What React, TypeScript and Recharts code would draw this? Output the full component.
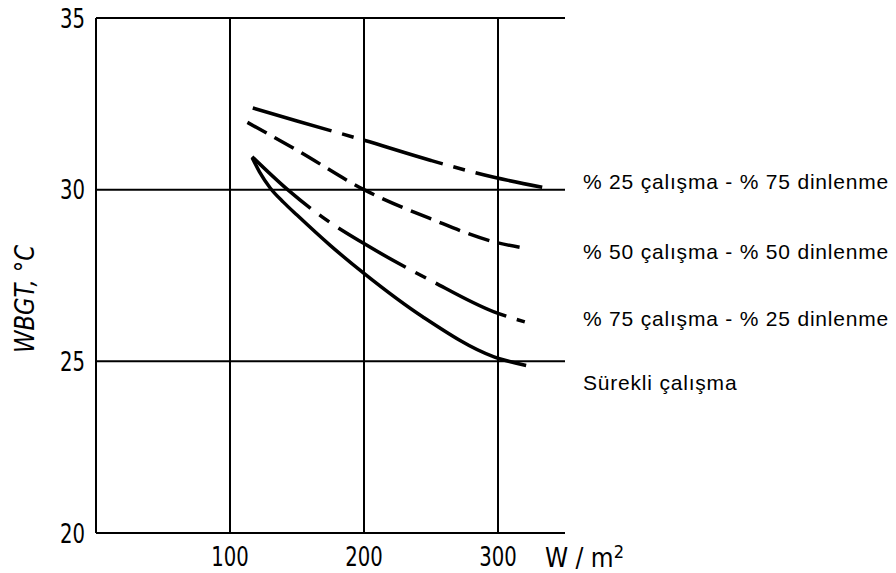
import React from "react";
import {
  LineChart,
  Line,
  XAxis,
  YAxis,
  CartesianGrid,
} from "recharts";

// x: metabolic rate (W/m2), y: WBGT limit (°C)
const work25X = [117, 150, 200, 250, 297, 333];
const work25Y = [32.38, 32.0, 31.44, 30.85, 30.36, 30.07];

const work50X = [113, 150, 200, 250, 297, 321];
const work50Y = [31.96, 31.15, 30.0, 29.15, 28.48, 28.29];

const work75X = [116.5, 143, 169, 200, 250, 297, 320];
const work75Y = [30.96, 30.0, 29.2, 28.43, 27.35, 26.44, 26.15];

const continuousX = [116.5, 122, 130, 140, 150, 175, 200, 244, 297, 321];
const continuousY = [30.93, 30.52, 30.05, 29.63, 29.26, 28.37, 27.56, 26.29, 25.13, 24.88];

const xTicks = [100, 200, 300];
const yTicks = [20, 25, 30, 35];

const labels = [
  "% 25 çalışma - % 75 dinlenme",
  "% 50 çalışma - % 50 dinlenme",
  "% 75 çalışma - % 25 dinlenme",
  "Sürekli çalışma",
];
const labelTops = [170, 240, 307, 371];

const toRows = (xs: number[], ys: number[]) =>
  xs.map((x, i) => ({ x, y: ys[i] }));

const series = [
  { data: toRows(work25X, work25Y), dash: "82 11 12 11" },
  { data: toRows(work50X, work50Y), dash: "22 9" },
  { data: toRows(work75X, work75Y), dash: "78 11 12 11" },
  { data: toRows(continuousX, continuousY), dash: undefined },
];

const FONT = "'DejaVu Sans Condensed', 'DejaVu Sans', sans-serif";

// condensed numbers like the scanned figure
const NarrowTick = (props: any) => {
  const { x, y, payload, textAnchor, verticalAnchor } = props;
  const s = String(payload.value);
  const dy = verticalAnchor === "start" ? "0.71em" : "0.355em";
  return (
    <text
      x={x}
      y={y}
      dy={dy}
      textAnchor={textAnchor}
      fontFamily={FONT}
      fontSize={27}
      fill="#000"
      textLength={s.length * 12.5}
      lengthAdjust="spacingAndGlyphs"
    >
      {s}
    </text>
  );
};

export default function App() {
  return (
    <div
      style={{
        position: "absolute",
        left: 0,
        top: 0,
        width: 896,
        height: 573,
        background: "#fff",
      }}
    >
      <LineChart
        width={896}
        height={573}
        margin={{ top: 18, right: 331, bottom: 0, left: 0 }}
      >
        <CartesianGrid
          stroke="#000"
          strokeWidth={2}
          horizontalValues={yTicks}
          verticalValues={xTicks}
        />
        <XAxis
          type="number"
          dataKey="x"
          domain={[0, 350]}
          ticks={xTicks}
          height={40}
          tickLine={false}
          tickSize={0}
          tickMargin={14}
          axisLine={{ stroke: "#000", strokeWidth: 2 }}
          tick={<NarrowTick />}
          allowDataOverflow
          label={{
            content: (props: any) => {
              const vb = props.viewBox || {};
              return (
                <text
                  x={vb.x + vb.width - 20}
                  y={vb.y + 34}
                  fontFamily={FONT}
                  fontSize={26}
                  fill="#000"
                >
                  W / m<tspan dy={-9} fontSize={18}>2</tspan>
                </text>
              );
            },
          }}
        />
        <YAxis
          type="number"
          domain={[20, 35]}
          ticks={yTicks}
          width={96}
          tickLine={false}
          tickSize={0}
          tickMargin={11}
          axisLine={{ stroke: "#000", strokeWidth: 2 }}
          tick={<NarrowTick />}
          label={{
            content: () => (
              <text
                x={34}
                y={299}
                transform="rotate(-90 34 299)"
                textAnchor="middle"
                fontFamily={FONT}
                fontStyle="italic"
                fontSize={26}
                textLength={108}
                lengthAdjust="spacingAndGlyphs"
                fill="#000"
              >
                WBGT, °C
              </text>
            ),
          }}
        />
        {series.map((s, i) => (
          <Line
            key={i}
            data={s.data}
            dataKey="y"
            type="monotone"
            stroke="#000"
            strokeWidth={3.5}
            strokeDasharray={s.dash}
            dot={false}
            activeDot={false}
            isAnimationActive={false}
          />
        ))}
      </LineChart>
      {labels.map((t, i) => (
        <div
          key={t}
          style={{
            position: "absolute",
            left: 583,
            top: labelTops[i],
            fontFamily: "'Liberation Sans', Arial, sans-serif",
            fontSize: 21,
            letterSpacing: 0.8,
            lineHeight: "24px",
            color: "#000",
            whiteSpace: "nowrap",
          }}
        >
          {t}
        </div>
      ))}
    </div>
  );
}
